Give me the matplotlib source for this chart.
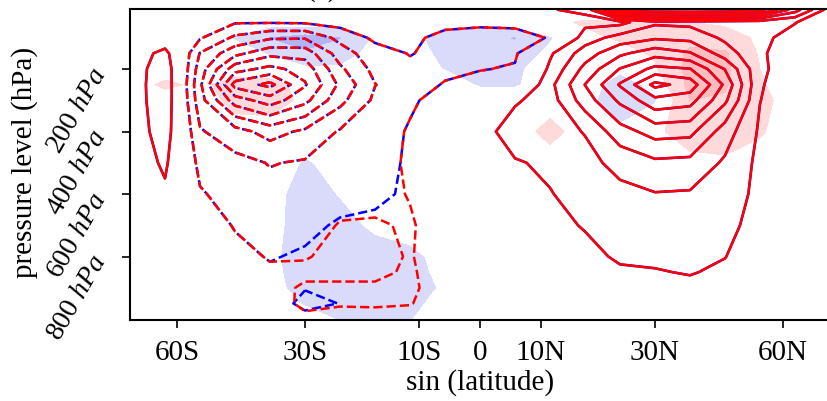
import numpy as np
import matplotlib
matplotlib.use("Agg")
import matplotlib.pyplot as plt

plt.rcParams['font.family'] = 'Liberation Serif'
plt.rcParams['mathtext.fontset'] = 'custom'
plt.rcParams['mathtext.rm'] = 'Liberation Serif'
plt.rcParams['mathtext.it'] = 'Liberation Serif:italic'

# grid: sin(latitude) columns, pressure rows (hPa)
sinlat = [-1.0, -0.9, -0.8, -0.7, -0.6, -0.5, -0.4, -0.3, -0.2, -0.1, 0.0,
          0.1, 0.2, 0.3, 0.4, 0.5, 0.6, 0.7, 0.8, 0.9, 1.0]
plev = [10, 50, 100, 150, 200, 250, 300, 400, 500, 600, 700, 800, 850, 900, 950, 1000]

# red field (contour lines)
psi_red = [
    [0, 0, -0.3, -0.4, -0.3, -0.3, -0.4, -0.4, -0.4, -0.3, -0.2, 0.3, 0.95, 1.2, 6.5, 6.8, 6.9, 6.8, 6.5, 3.5, 0.5],
    [0, 0, -0.5, -0.9, -0.9, -0.85, -0.6, -0.7, -0.6, -0.8, -0.8, -0.8, 0.0, 0.7, 0.675, 1.8, 1.7, 1.6, 1.5, 1.05, 0.3],
    [0, 0.1, -0.9, -2.2, -2.85, -2.9, -1.7, -0.8, -0.85, -1.2, -1.4, -1.3, -0.95, 1.5, 2.4, 2.85, 2.7, 1.8, 1.25, 0.6, 0.1],
    [0.2, 1.4, -2.05, -3.7, -4.7, -4.6, -2.5, -1.4, -0.954, -1.3, -1.3, -1.15, 0.85, 2.5, 3.8, 4.6, 4.1, 2.5, 1.15, 0.4, 0.1],
    [0.25, 1.8, -2.5, -5.6, -6.3, -5.6, -3.2, -1.7, -1.2, -1.15, -1.05, -0.9, 1.2, 3.3, 5.05, 6.3, 6.05, 3.95, 1.2, 0.4, 0.1],
    [0.25, 1.9, -2.8, -7.4, -8.3, -6.1, -3.8, -2.03, -1.3, -0.95, -0.6, -0.5, 1.7, 4.02, 6.1, 8.3, 7.6, 4.8, 1.1, 0.3, 0.1],
    [0.25, 1.85, -2.6, -5.5, -6.5, -5.3, -3.3, -1.8, -1.15, -0.6, -0.2, 0.85, 1.55, 3.5, 5.2, 6.7, 6.4, 4.2, 1.02, 0.3, 0.1],
    [0.25, 1.6, -1.9, -2.6, -3.4, -2.8, -1.9, -1.5, -0.9, -0.3, 0.5, 1.6, 1.6, 2.05, 3.6, 4.4, 4.3, 2.5, 0.85, 0.3, 0.1],
    [0.2, 1.2, -1.3, -1.7, -2.05, -1.9, -1.6, -1.4, -0.85, -0.3, 0.55, 0.9, 1.2, 1.7, 2.3, 2.8, 2.7, 1.85, 0.75, 0.3, 0.1],
    [0.1, 0.8, -0.9, -1.4, -1.7, -1.6, -1.3, -1.3, -0.95, -0.4, 0.45, 0.7, 0.95, 1.4, 1.75, 1.95, 1.9, 1.6, 0.7, 0.3, 0.1],
    [0, 0.3, -0.6, -1.05, -1.38, -1.35, -0.95, -0.9, -1.1, -0.5, 0.3, 0.55, 0.8, 1.05, 1.4, 1.6, 1.55, 1.3, 0.6, 0.2, 0.1],
    [0, 0.1, -0.4, -0.8, -1.05, -1.05, -0.8, -0.8, -1.05, -0.6, 0.2, 0.4, 0.6, 0.8, 1.1, 1.15, 1.2, 1.02, 0.5, 0.2, 0.1],
    [0, 0, -0.3, -0.7, -0.9, -0.85, -0.85, -0.85, -1.1, -0.6, 0.1, 0.35, 0.5, 0.6, 0.9, 0.95, 1.05, 0.85, 0.4, 0.2, 0.1],
    [0, 0, -0.2, -0.5, -0.75, -1.1, -1.1, -1.1, -1.15, -0.6, 0.0, 0.3, 0.4, 0.4, 0.7, 0.7, 0.8, 0.65, 0.3, 0.1, 0.05],
    [0, 0, -0.15, -0.4, -0.55, -1.2, -1.1, -1.1, -1.05, -0.5, 0, 0.2, 0.3, 0.3, 0.5, 0.5, 0.55, 0.45, 0.2, 0.1, 0],
    [0, 0, -0.1, -0.3, -0.3, -0.8, -0.6, -0.7, -0.6, -0.3, 0, 0.1, 0.2, 0.2, 0.3, 0.3, 0.3, 0.3, 0.1, 0.05, 0],
]

# blue field (contour lines), differs from red in the lower SH only
psi_blue = [
    [0, 0, -0.3, -0.4, -0.3, -0.3, -0.4, -0.4, -0.4, -0.3, -0.2, 0.3, 0.95, 1.2, 6.5, 6.8, 6.9, 6.8, 6.5, 3.5, 0.5],
    [0, 0, -0.5, -0.9, -0.9, -0.85, -0.6, -0.7, -0.6, -0.8, -0.8, -0.8, 0.0, 0.7, 0.675, 1.8, 1.7, 1.6, 1.5, 1.05, 0.3],
    [0, 0.1, -0.9, -2.2, -2.85, -2.9, -1.7, -0.8, -0.85, -1.2, -1.4, -1.3, -0.95, 1.5, 2.4, 2.85, 2.7, 1.8, 1.25, 0.6, 0.1],
    [0.2, 1.4, -2.05, -3.7, -4.7, -4.6, -2.5, -1.4, -0.954, -1.3, -1.3, -1.15, 0.85, 2.5, 3.8, 4.6, 4.1, 2.5, 1.15, 0.4, 0.1],
    [0.25, 1.8, -2.5, -5.6, -6.3, -5.6, -3.2, -1.7, -1.2, -1.15, -1.05, -0.9, 1.2, 3.3, 5.05, 6.3, 6.05, 3.95, 1.2, 0.4, 0.1],
    [0.25, 1.9, -2.8, -7.4, -8.3, -6.1, -3.8, -2.03, -1.3, -0.95, -0.6, -0.5, 1.7, 4.02, 6.1, 8.3, 7.6, 4.8, 1.1, 0.3, 0.1],
    [0.25, 1.85, -2.6, -5.5, -6.5, -5.3, -3.3, -1.8, -1.15, -0.6, -0.2, 0.85, 1.55, 3.5, 5.2, 6.7, 6.4, 4.2, 1.02, 0.3, 0.1],
    [0.25, 1.6, -1.9, -2.6, -3.4, -2.8, -1.9, -1.5, -0.9, -0.3, 0.5, 1.6, 1.6, 2.05, 3.6, 4.4, 4.3, 2.5, 0.85, 0.3, 0.1],
    [0.2, 1.2, -1.3, -1.7, -2.05, -1.9, -1.6, -1.4, -0.85, -0.3, 0.55, 0.9, 1.2, 1.7, 2.3, 2.8, 2.7, 1.85, 0.75, 0.3, 0.1],
    [0.1, 0.8, -0.9, -1.4, -1.7, -1.6, -1.3, -1.2, -0.85, -0.4, 0.45, 0.7, 0.95, 1.4, 1.75, 1.95, 1.9, 1.6, 0.7, 0.3, 0.1],
    [0, 0.3, -0.6, -1.05, -1.38, -1.2, -0.9, -0.8, -0.8, -0.5, 0.3, 0.55, 0.8, 1.05, 1.4, 1.6, 1.55, 1.3, 0.6, 0.2, 0.1],
    [0, 0.1, -0.4, -0.8, -1.05, -0.9, -0.75, -0.75, -0.8, -0.6, 0.2, 0.4, 0.6, 0.8, 1.1, 1.15, 1.2, 1.02, 0.5, 0.2, 0.1],
    [0, 0, -0.3, -0.7, -0.9, -0.8, -0.8, -0.75, -0.8, -0.6, 0.1, 0.35, 0.5, 0.6, 0.9, 0.95, 1.05, 0.85, 0.4, 0.2, 0.1],
    [0, 0, -0.2, -0.5, -0.75, -0.95, -0.8, -0.75, -0.75, -0.6, 0.0, 0.3, 0.4, 0.4, 0.7, 0.7, 0.8, 0.65, 0.3, 0.1, 0.05],
    [0, 0, -0.15, -0.4, -0.5, -1.25, -0.98, -0.7, -0.7, -0.5, 0, 0.2, 0.3, 0.3, 0.5, 0.5, 0.55, 0.45, 0.2, 0.1, 0],
    [0, 0, -0.1, -0.3, -0.3, -0.7, -0.6, -0.5, -0.5, -0.3, 0, 0.1, 0.2, 0.2, 0.3, 0.3, 0.3, 0.3, 0.1, 0.05, 0],
]

# shaded difference field
psi_diff = [
    [0] * 21,
    [0, 0, 0, 0, 0, 0, 0, 0, 0, 0, 0, 0, 0.3, 0.6, 0.6, 0.55, 0.5, 0.3, 0, -0.6, 0],
    [0, 0, 0, -0.6, -1.6, -2.0, -1.6, -0.4, -0.2, -1.0, -1.2, -1.6, -0.6, 0.3, 0.6, 0.8, 1.2, 1.0, 0.3, 0, 0],
    [0, 0, 0, 0, -0.6, -1.4, -0.9, -0.2, 0, -0.8, -1.0, -1.0, -0.3, 0, 0.2, 0.6, 1.7, 1.6, 0.4, 0, 0],
    [0, 0, 0, 0, 0, -0.3, -0.4, 0, 0, -0.55, -0.8, -0.7, 0, 0, -0.3, 0.4, 1.8, 1.7, 0.5, 0, 0],
    [0, 0.7, 0.3, 0.9, 0.8, 0.2, 0, 0, 0, 0, -0.6, -0.6, 0, 0, -1.0, -0.2, 1.8, 1.6, 0.6, 0, 0],
    [0, 0, 0, 0.8, 0.9, 0.3, 0, 0, 0, 0, 0, 0, 0, -0.2, -1.1, -0.6, 1.5, 1.4, 0.8, 0, 0],
    [0, 0, 0, 0.1, 0.1, 0, 0, 0, 0, 0, 0, 0, 0.85, 0, -0.3, 0.3, 1.0, 1.1, 0.6, 0, 0],
    [0, 0, 0, 0, 0, -0.6, -0.2, 0, 0, 0, 0, 0, 0, 0, 0, 0, 0.2, 0.3, 0.1, 0, 0],
    [0, 0, 0, 0, -0.1, -1.0, -0.45, 0, 0, 0, 0, 0, 0, 0, 0, 0, 0, 0, 0, 0, 0],
    [0, 0, 0, 0, -0.1, -1.1, -0.9, -0.3, 0, 0, 0, 0, 0, 0, 0, 0, 0, 0, 0, 0, 0],
    [0, 0, 0, 0, -0.2, -1.2, -1.2, -1.0, -0.8, -0.1, 0, 0, 0, 0, 0, 0, 0, 0, 0, 0, 0],
    [0, 0, 0, 0, -0.1, -1.2, -1.2, -1.1, -0.9, -0.2, 0, 0, 0, 0, 0, 0, 0, 0, 0, 0, 0],
    [0, 0, 0, 0, 0, -1.1, -1.2, -1.1, -1.0, -0.35, 0, 0, 0, 0, 0, 0, 0, 0, 0, 0, 0],
    [0, 0, 0, 0, 0, -0.6, -1.1, -1.0, -0.8, -0.1, 0, 0, 0, 0, 0, 0, 0, 0, 0, 0, 0],
    [0, 0, 0, 0, 0, 0, -0.6, -0.8, -0.55, 0, 0, 0, 0, 0, 0, 0, 0, 0, 0, 0, 0],
]

line_levels = [-8, -7, -6, -5, -4, -3, -2, -1, 1, 2, 3, 4, 5, 6, 7, 8]
shade_levels = [-3, -1.5, -0.5, 0.5, 1.5, 3]
shade_colors = ['#b4b4f5', '#dadafa', 'white', '#ffdada', '#ffbebe']

lat_ticks = [-60, -30, -10, 0, 10, 30, 60]
lat_labels = ['60S', '30S', '10S', '0', '10N', '30N', '60N']
p_ticks = [200, 400, 600, 800]
p_labels = ['200 $hPa$', '400 $hPa$', '600 $hPa$', '800 $hPa$']

fig = plt.figure(figsize=(8.28, 4.02), dpi=100)
ax = fig.add_axes([130 / 828, 81 / 402, 700 / 828, 311 / 402])

ax.contourf(sinlat, plev, psi_diff, levels=shade_levels, colors=shade_colors)

# blue dashes shifted slightly so a sliver shows beside the red ones
blue_styles = ['solid' if lev > 0 else (0.6, (3.7, 1.6)) for lev in line_levels]
ax.contour(sinlat, plev, psi_blue, levels=line_levels, colors='blue',
           linewidths=1.8, linestyles=blue_styles)
ax.contour(sinlat, plev, psi_red, levels=line_levels, colors='red', linewidths=1.8)

ax.set_xlim(-1, 1)
ax.set_ylim(1003, 8)
ax.set_xticks(np.sin(np.deg2rad(lat_ticks)))
ax.set_xticklabels(lat_labels, fontsize=21)
ax.set_yticks(p_ticks)
ax.set_yticklabels(p_labels, fontsize=20, rotation=60, rotation_mode='anchor',
                   ha='right', va='center')
ax.tick_params(axis='both', length=6, width=1.2)
ax.tick_params(axis='y', pad=15)
ax.tick_params(axis='x', pad=8)
for s in ax.spines.values():
    s.set_linewidth(1.5)

ax.set_xlabel('sin (latitude)', fontsize=21)
ax.xaxis.set_label_coords(0.5, -0.155)
ax.set_ylabel('pressure level (hPa)', fontsize=21)
ax.yaxis.set_label_coords(-0.132, 0.51)

fig.text(322 / 828, 1 - 2 / 402, '(a)', ha='center', va='bottom', fontsize=21)

fig.savefig('out.png', dpi=100)
